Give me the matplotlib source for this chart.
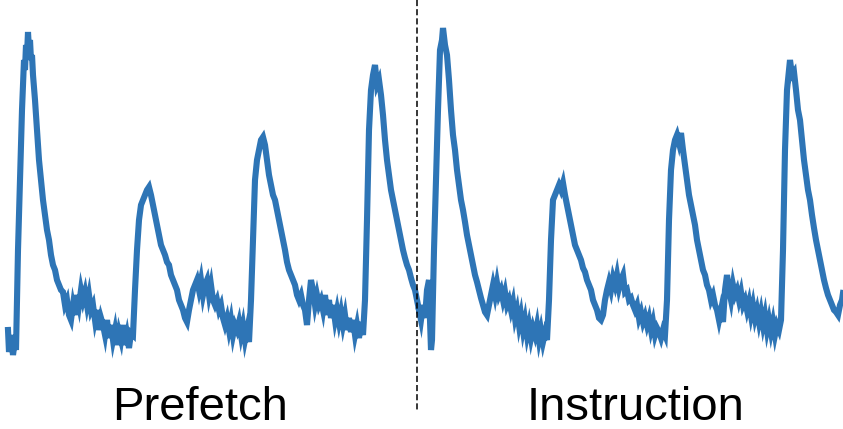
import matplotlib
matplotlib.use("Agg")
import matplotlib.pyplot as plt

# Trace readings: time (sample index) and sensor reading (screen-depth units, larger = lower)
prefetch_t = [8, 9, 11, 13, 15, 16, 17, 18, 20, 22, 24, 25, 26, 27, 28, 29, 30, 31, 32, 33, 35, 37, 39, 41, 43, 45, 47, 49, 51, 53, 55, 57, 59, 61, 63, 65, 67, 69, 71, 73, 75, 77, 79, 81, 83, 85, 87, 89, 91, 93, 95, 97, 99, 101, 103, 105, 107, 109, 111, 113, 115, 117, 119, 121, 123, 125, 127, 129, 131, 133, 135, 137, 139, 141, 143, 145, 147, 149, 151, 153, 155, 157, 159, 161, 163, 165, 167, 169, 171, 173, 175, 177, 179, 181, 183, 185, 187, 189, 191, 193, 195, 197, 199, 201, 203, 205, 207, 209, 211, 213, 215, 217, 219, 221, 223, 225, 227, 229, 231, 233, 235, 237, 239, 241, 243, 245, 247, 249, 251, 253, 255, 257, 259, 261, 263, 265, 267, 269, 271, 273, 275, 277, 279, 281, 283, 285, 287, 289, 291, 293, 295, 297, 299, 301, 303, 305, 307, 309, 311, 313, 315, 317, 319, 321, 323, 325, 327, 329, 331, 333, 335, 337, 339, 341, 343, 345, 347, 349, 351, 353, 355, 357, 359, 361, 363, 365, 367, 369, 371, 373, 375, 377, 379, 381, 383, 385, 387, 389, 391, 393, 395, 397, 399, 401, 403, 405, 407, 409, 411, 413, 415, 417, 419]
prefetch_v = [330, 352, 335, 355, 340, 350, 300, 250, 180, 110, 60, 70, 45, 55, 32, 50, 40, 60, 55, 75, 100, 130, 160, 180, 200, 215, 230, 240, 255, 265, 270, 280, 285, 290, 292, 305, 300, 315, 320, 305, 315, 295, 305, 290, 300, 292, 305, 295, 310, 305, 320, 310, 330, 318, 325, 335, 320, 338, 325, 340, 330, 345, 332, 340, 325, 345, 335, 348, 333, 335, 290, 250, 220, 205, 200, 195, 190, 187, 195, 205, 215, 225, 235, 245, 250, 255, 262, 265, 275, 280, 285, 290, 300, 305, 310, 318, 322, 310, 300, 290, 285, 280, 290, 280, 295, 285, 280, 295, 285, 300, 305, 300, 310, 305, 318, 325, 318, 330, 320, 335, 325, 330, 322, 335, 325, 340, 330, 342, 300, 240, 180, 160, 150, 140, 137, 145, 160, 175, 185, 195, 200, 210, 220, 230, 240, 250, 262, 270, 275, 280, 285, 295, 300, 295, 305, 310, 325, 300, 280, 290, 305, 295, 305, 300, 310, 295, 315, 300, 318, 305, 320, 310, 322, 312, 325, 315, 330, 318, 332, 320, 335, 325, 338, 322, 335, 300, 220, 130, 90, 75, 65, 85, 80, 95, 115, 140, 160, 175, 190, 200, 210, 220, 230, 240, 250, 258, 265, 270, 278, 285, 290, 300, 310]

instruction_t = [419, 421, 423, 425, 427, 429, 430, 431, 432, 434, 436, 438, 440, 442, 443, 445, 447, 449, 451, 453, 455, 457, 459, 461, 463, 465, 467, 469, 471, 473, 475, 477, 479, 481, 483, 485, 487, 489, 491, 493, 495, 497, 499, 501, 503, 505, 507, 509, 511, 513, 515, 517, 519, 521, 523, 525, 527, 529, 531, 533, 535, 537, 539, 541, 543, 545, 547, 549, 551, 553, 555, 557, 559, 561, 563, 565, 567, 569, 571, 573, 575, 577, 579, 581, 583, 585, 587, 589, 591, 593, 595, 597, 599, 601, 603, 605, 607, 609, 611, 613, 615, 617, 619, 621, 623, 625, 627, 629, 631, 633, 635, 637, 639, 641, 643, 645, 647, 649, 651, 653, 655, 657, 659, 661, 663, 665, 667, 669, 671, 673, 675, 677, 679, 681, 683, 685, 687, 689, 691, 693, 695, 697, 699, 701, 703, 705, 707, 709, 711, 713, 715, 717, 719, 721, 723, 725, 727, 729, 731, 733, 735, 737, 739, 741, 743, 745, 747, 749, 751, 753, 755, 757, 759, 761, 763, 765, 767, 769, 771, 773, 775, 777, 779, 781, 783, 785, 787, 789, 790, 792, 794, 796, 798, 800, 802, 804, 806, 808, 810, 812, 814, 816, 818, 820, 822, 824, 826, 828, 830, 832, 834, 836, 838, 840, 842, 843]
instruction_v = [310, 320, 305, 318, 290, 280, 320, 350, 340, 250, 180, 110, 50, 40, 28, 45, 55, 80, 110, 135, 150, 170, 185, 200, 210, 222, 235, 245, 255, 265, 275, 282, 290, 298, 305, 312, 315, 305, 295, 285, 295, 283, 295, 290, 300, 292, 305, 300, 310, 302, 318, 310, 325, 315, 330, 320, 335, 325, 338, 328, 335, 325, 340, 330, 342, 333, 340, 300, 240, 200, 195, 190, 185, 190, 183, 195, 205, 215, 225, 235, 245, 250, 255, 260, 268, 272, 280, 285, 290, 300, 305, 310, 318, 320, 315, 300, 290, 282, 290, 278, 285, 275, 288, 280, 275, 292, 290, 300, 298, 305, 310, 305, 318, 312, 322, 316, 325, 318, 330, 322, 335, 328, 332, 338, 330, 335, 300, 220, 170, 150, 140, 135, 143, 133, 150, 165, 180, 195, 205, 215, 225, 240, 250, 260, 270, 275, 285, 290, 300, 295, 305, 310, 320, 310, 322, 290, 275, 290, 300, 285, 295, 290, 300, 292, 305, 300, 310, 302, 315, 305, 318, 310, 322, 312, 325, 315, 330, 320, 332, 322, 335, 325, 330, 320, 250, 150, 90, 70, 60, 75, 72, 90, 110, 120, 140, 160, 175, 190, 200, 215, 228, 240, 250, 260, 270, 280, 288, 295, 300, 305, 310, 312, 315, 305, 300, 293]

section_labels = ["Prefetch", "Instruction"]
label_x = [200, 636]
divider_x = 417

color = "#2E75B6"

fig = plt.figure(figsize=(8.43, 4.29), dpi=100)
ax = fig.add_axes([0, 0, 1, 1])
ax.plot(prefetch_t, prefetch_v, color=color, lw=4.4, solid_joinstyle="miter")
ax.plot(instruction_t, instruction_v, color=color, lw=4.4, solid_joinstyle="miter")
ax.plot([divider_x, divider_x], [0, 410], color="black", lw=1.1, linestyle=(0, (4, 2)))
for lab, lx in zip(section_labels, label_x):
    ax.text(lx, 408, lab, ha="center", va="center", fontsize=34,
            family=["Liberation Sans", "DejaVu Sans"], color="black")
ax.set_xlim(0, 843)
ax.set_ylim(429, 0)
ax.axis("off")
fig.savefig("out.png", dpi=100)
